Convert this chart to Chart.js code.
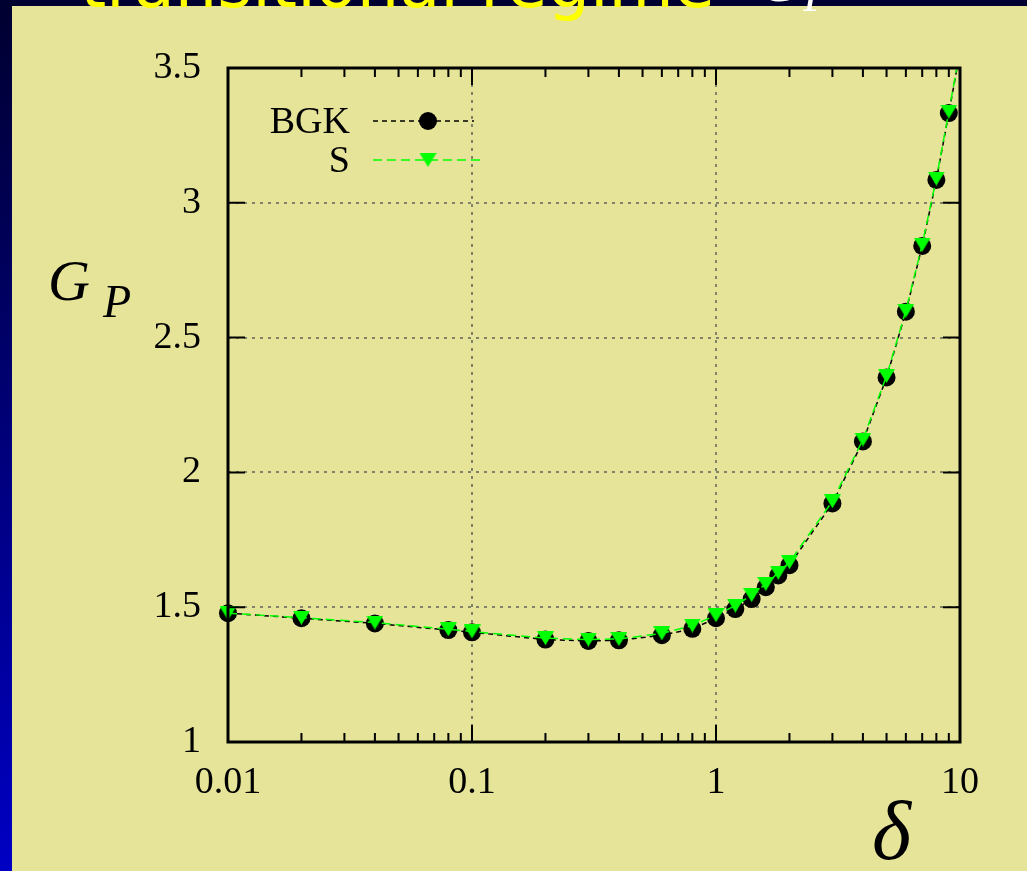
<!DOCTYPE html>
<html>
<head>
<meta charset="utf-8">
<script src="https://cdn.jsdelivr.net/npm/chart.js@4.4.1/dist/chart.umd.min.js"></script>
<style>
  html, body { margin: 0; padding: 0; }
  body {
    width: 1027px; height: 871px; overflow: hidden; position: relative;
    background: linear-gradient(to bottom, #000030 0%, #000080 55%, #0000c4 100%);
  }
  #panel { position: absolute; left: 12px; top: 6px; right: 0; bottom: 0; background: #e5e499; }
  #gp { position: absolute; left: 0; top: 0; }
  .title { position: absolute; white-space: nowrap; line-height: 1; z-index: 2; }
  #t1 { left: 80px; top: -55px; font: 67px "DejaVu Sans"; color: #ffff00; }
  #t2 { left: 757px; top: -57px; font: italic 64px "Liberation Serif"; color: #fff; }
  #t2 sub { font-size: 46px; vertical-align: -10px; }
</style>
</head>
<body>
<div id="panel"></div>
<canvas id="gp" width="1027" height="871"></canvas>
<div class="title" id="t1">transitional regime</div>
<div class="title" id="t2">G<sub>P</sub></div>
<script>
// delta values (x) and the two G_P curves
const deltaValues = [0.01, 0.02, 0.04, 0.08, 0.1, 0.2, 0.3, 0.4, 0.6, 0.8, 1, 1.2, 1.4, 1.6, 1.8, 2, 3, 4, 5, 6, 7, 8, 9, 10];
const bgkValues = [1.478, 1.459, 1.44, 1.415, 1.407, 1.38, 1.375, 1.377, 1.396, 1.42, 1.459, 1.493, 1.53, 1.574, 1.618, 1.656, 1.885, 2.115, 2.352, 2.596, 2.84, 3.085, 3.333, 3.56];
const sValues = [1.478, 1.461, 1.443, 1.418, 1.41, 1.385, 1.38, 1.382, 1.403, 1.432, 1.47, 1.506, 1.545, 1.586, 1.628, 1.667, 1.893, 2.122, 2.358, 2.6, 2.845, 3.09, 3.338, 3.565];

// tick labels
const xTickValues = [0.01, 0.1, 1, 10];
const xTickLabels = ['0.01', '0.1', '1', '10'];
const yTickValues = [1, 1.5, 2, 2.5, 3, 3.5];
const yTickLabels = ['1', '1.5', '2', '2.5', '3', '3.5'];

const seriesNames = ['BGK', 'S'];

const serif = '"Liberation Serif", "Times New Roman", serif';

function toPoints(ys) {
  return deltaValues.map((x, i) => ({ x: x, y: ys[i] }));
}

// down pointing triangle, centred on its box like gnuplot does it
function makeTriangle(w, h, color) {
  const c = document.createElement('canvas');
  c.width = w; c.height = h;
  const t = c.getContext('2d');
  t.fillStyle = color;
  t.beginPath();
  t.moveTo(0, 0); t.lineTo(w, 0); t.lineTo(w / 2, h);
  t.closePath();
  t.fill();
  return c;
}
const triangle = makeTriangle(17, 14, '#00ff00');

// gnuplot style frame: dotted grid, inward ticks, thick box, legend and labels
const framePlugin = {
  id: 'frame',
  beforeDatasetsDraw(chart) {
    const ctx = chart.ctx, a = chart.chartArea;
    const xs = chart.scales.x, ys = chart.scales.y;
    ctx.save();
    ctx.strokeStyle = '#62625a';
    ctx.lineWidth = 1.5;
    ctx.setLineDash([3, 5]);
    xTickValues.forEach(v => {
      const px = Math.round(xs.getPixelForValue(v));
      if (px <= a.left + 2 || px >= a.right - 2) return;
      ctx.beginPath(); ctx.moveTo(px, a.top); ctx.lineTo(px, a.bottom); ctx.stroke();
    });
    yTickValues.forEach(v => {
      const py = Math.round(ys.getPixelForValue(v));
      if (py <= a.top + 2 || py >= a.bottom - 2) return;
      ctx.beginPath(); ctx.moveTo(a.left, py); ctx.lineTo(a.right, py); ctx.stroke();
    });
    ctx.restore();
  },
  afterDatasetsDraw(chart) {
    const ctx = chart.ctx, a = chart.chartArea;
    const xs = chart.scales.x, ys = chart.scales.y;
    ctx.save();
    ctx.strokeStyle = '#000';
    ctx.lineWidth = 2;
    // x ticks, major and minor, bottom and top
    [0.01, 0.1, 1].forEach(d => {
      for (let m = 1; m <= 9; m++) {
        const px = xs.getPixelForValue(m * d);
        const len = m === 1 ? 17 : 9;
        ctx.beginPath();
        ctx.moveTo(px, a.bottom); ctx.lineTo(px, a.bottom - len);
        ctx.moveTo(px, a.top); ctx.lineTo(px, a.top + len);
        ctx.stroke();
      }
    });
    yTickValues.forEach(v => {
      const py = ys.getPixelForValue(v);
      ctx.beginPath();
      ctx.moveTo(a.left, py); ctx.lineTo(a.left + 17, py);
      ctx.moveTo(a.right, py); ctx.lineTo(a.right - 17, py);
      ctx.stroke();
    });
    ctx.lineWidth = 3;
    ctx.strokeRect(a.left, a.top, a.right - a.left, a.bottom - a.top);

    // legend
    const ds = chart.data.datasets;
    ctx.font = '38px ' + serif;
    ctx.textAlign = 'right';
    ctx.textBaseline = 'middle';
    [[121, 474], [160, 484]].forEach((row, i) => {
      const ly = row[0], end = row[1];
      const d = ds[i];
      ctx.fillStyle = '#000';
      ctx.fillText(seriesNames[i], 350, ly + 2);
      ctx.strokeStyle = d.borderColor;
      ctx.lineWidth = d.borderWidth;
      ctx.setLineDash(d.borderDash);
      ctx.beginPath(); ctx.moveTo(373, ly); ctx.lineTo(end, ly); ctx.stroke();
      ctx.setLineDash([]);
      if (d.pointStyle === 'circle') {
        ctx.fillStyle = d.pointBackgroundColor;
        ctx.beginPath();
        ctx.arc(428, ly, d.pointRadius, 0, Math.PI * 2);
        ctx.fill();
      } else {
        ctx.drawImage(d.pointStyle, 428 - d.pointStyle.width / 2, ly - d.pointStyle.height / 2);
      }
    });

    // axis titles
    ctx.textAlign = 'left';
    ctx.textBaseline = 'alphabetic';
    ctx.fillStyle = '#000';
    ctx.font = 'italic 58px ' + serif;
    ctx.fillText('G', 48, 300);
    ctx.font = 'italic 46px ' + serif;
    ctx.fillText('P', 103, 317);
    ctx.font = 'italic 84px ' + serif;
    ctx.fillText('\u03b4', 872, 859);
    ctx.restore();
  }
};

new Chart(document.getElementById('gp'), {
  type: 'line',
  data: {
    datasets: [
      {
        label: seriesNames[0],
        data: toPoints(bgkValues),
        borderColor: '#000000',
        borderWidth: 1.5,
        borderDash: [5, 4],
        pointStyle: 'circle',
        pointRadius: 9,
        pointBackgroundColor: '#000000',
        pointBorderWidth: 0,
        tension: 0,
        order: 2,
        clip: { left: 14, right: 14, top: 0, bottom: 14 }
      },
      {
        label: seriesNames[1],
        data: toPoints(sValues),
        borderColor: '#00ff00',
        borderWidth: 1.5,
        borderDash: [9, 5],
        pointStyle: triangle,
        pointRadius: 9,
        pointBackgroundColor: '#00ff00',
        pointBorderWidth: 0,
        tension: 0,
        order: 1,
        clip: { left: 14, right: 14, top: 0, bottom: 14 }
      }
    ]
  },
  options: {
    responsive: false,
    animation: false,
    devicePixelRatio: 1,
    layout: { padding: { left: 0, top: 68, right: 67, bottom: 0 } },
    plugins: { legend: { display: false }, tooltip: { enabled: false } },
    scales: {
      x: {
        type: 'logarithmic',
        min: 0.01,
        max: 10,
        grid: { display: false, drawTicks: false },
        border: { display: false },
        afterBuildTicks: s => { s.ticks = xTickValues.map(v => ({ value: v })); },
        afterFit: s => { s.height = 129; },
        ticks: {
          autoSkip: false,
          maxRotation: 0,
          padding: 18,
          color: '#000',
          font: { family: serif, size: 38 },
          callback: (v) => xTickLabels[xTickValues.indexOf(v)]
        }
      },
      y: {
        type: 'linear',
        min: 1,
        max: 3.5,
        grid: { display: false, drawTicks: false },
        border: { display: false },
        afterBuildTicks: s => { s.ticks = yTickValues.map(v => ({ value: v })); },
        afterFit: s => { s.width = 228; },
        ticks: {
          padding: 27,
          color: '#000',
          font: { family: serif, size: 38 },
          callback: (v) => yTickLabels[yTickValues.indexOf(v)]
        }
      }
    }
  },
  plugins: [framePlugin]
});
</script>
</body>
</html>
